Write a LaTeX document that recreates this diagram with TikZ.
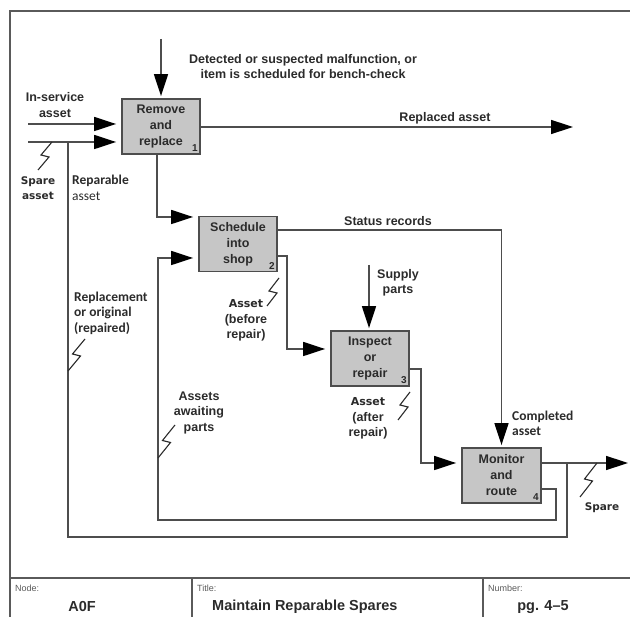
\documentclass[tikz,border=0pt]{standalone}
\usepackage{fontspec}
\setmainfont{Liberation Sans}
\newfontfamily\calfont{Carlito}
\newfontfamily\dejafont{DejaVu Sans}
\usetikzlibrary{arrows.meta,calc}

\definecolor{ink}{HTML}{2B2B2B}
\definecolor{wire}{HTML}{4D4D4D}
\definecolor{boxfill}{HTML}{C6C6C6}
\definecolor{framec}{HTML}{5A5A5A}

\tikzset{
  frameline/.style={draw=framec, line width=1.6pt},
  wire/.style={draw=wire, line width=1.5pt},
  flow/.style={wire, -{Triangle[length=22pt,width=14pt,color=black]}},
  intobox/.style={flow, shorten >=5pt},
  downbox/.style={flow, shorten >=2pt},
  zigline/.style={draw=ink, line width=1.1pt},
  stepbox/.style={draw=wire, line width=1.8pt, fill=boxfill,
    minimum width=78pt, minimum height=55pt, inner sep=0pt, align=center,
    font=\bfseries\fontsize{12.5}{16}\selectfont, text=ink},
  boxnum/.style={font=\bfseries\fontsize{10}{10}\selectfont, text=ink,
    anchor=south east, inner sep=3pt},
  lbl/.style={font=\bfseries\fontsize{12.5}{15.5}\selectfont, text=ink,
    align=center, inner sep=0pt},
  callbl/.style={font=\calfont\bfseries\fontsize{13.5}{15.5}\selectfont, text=ink,
    align=left, inner sep=0pt, anchor=west},
  dejalbl/.style={font=\dejafont\bfseries\fontsize{10.5}{15}\selectfont, text=ink,
    align=center, inner sep=0pt},
  caption/.style={font=\fontsize{9}{9}\selectfont, text=framec, anchor=west, inner sep=0pt},
  field/.style={font=\bfseries\fontsize{14.5}{14.5}\selectfont, text=ink, inner sep=0pt},
}

% lightning-bolt squiggle tying a label to its arrow (lower end first)
\newcommand{\idefsquiggle}[2]{%
  \draw[zigline] (#1) -- ($(#1)!0.5!(#2)+(4,1)$)
    -- ($(#1)!0.5!(#2)+(-4,-1)$) -- (#2);}

\begin{document}
\begin{tikzpicture}[x=1pt,y=-1pt]
\useasboundingbox (0,0) rectangle (630,617);

% drawing frame and title block
\coordinate (fbl) at (10,617);
\coordinate (ftl) at (10,11);
\coordinate (ftr) at (630,11);
\coordinate (tbl) at (10,578);
\coordinate (tbr) at (630,578);
\coordinate (d1t) at (192,578);
\coordinate (d1b) at (192,617);
\coordinate (d2t) at (483,578);
\coordinate (d2b) at (483,617);
\draw[frameline] (fbl) -- (ftl) -- (ftr);
\draw[frameline] (tbl) -- (tbr);
\draw[frameline] (d1t) -- (d1b);
\draw[frameline] (d2t) -- (d2b);

\node[caption] (capnode) at (15,588) {Node:};
\node[field] (nodeval) at (82,607) {A0F};
\node[caption] (captitle) at (197,588) {Title:};
\node[field, anchor=west] (titleval) at (212,607) {Maintain Reparable Spares};
\node[caption] (capnum) at (488,588) {Number:};
\node[field] (numval) at (543,607) {pg. 4–5};

% activity boxes
\node[stepbox] (b1) at (161,126.5) {Remove\\and\\replace};
\node[stepbox] (b2) at (238,244) {Schedule\\into\\shop};
\node[stepbox] (b3) at (370,358.5) {Inspect\\or\\repair};
\node[stepbox, minimum width=79pt] (b4) at (501.5,475.5) {Monitor\\and\\route};
\node[boxnum] (n1) at (b1.south east) {1};
\node[boxnum] (n2) at (b2.south east) {2};
\node[boxnum] (n3) at (b3.south east) {3};
\node[boxnum] (n4) at (b4.south east) {4};

% box 1: control, inputs, outputs
\coordinate (c1) at (161,39);
\draw[downbox] (c1) -- (b1.north);
\coordinate (i1) at (28,124);
\coordinate (i2) at (28,142);
\draw[intobox] (i1) -- (i1 -| b1.west);
\draw[intobox] (i2) -- (i2 -| b1.west);
\coordinate (o1) at (573,127);
\draw[flow] (o1 -| b1.east) -- (o1);
\coordinate (c12) at (157,217);
\draw[intobox] (c12 |- b1.south) -- (c12) -- (c12 -| b2.west);

% box 2 outputs
\coordinate (st) at (400,230);
\draw[downbox] (st -| b2.east) -| (b4.north);
\coordinate (br) at (287,256);
\coordinate (bi) at (300,349);
\draw[intobox] (br -| b2.east) -- (br) |- (bi -| b3.west);

% box 3: supply parts and output
\coordinate (sp) at (369,265);
\draw[downbox] (sp) -- (sp |- b3.north);
\coordinate (ar) at (421,369);
\coordinate (ai) at (440,463);
\draw[intobox] (ar -| b3.east) -- (ar) |- (ai -| b4.west);

% box 4: spare output, looped back to the spare-asset input
\coordinate (o4) at (628,463);
\draw[flow] (o4 -| b4.east) -- (o4);
\coordinate (j4) at (567,463);
\coordinate (r1) at (68,537);
\coordinate (j1) at (68,142);
\draw[wire] (j4) |- (r1) -- (j1);

% box 4: assets awaiting parts, back to box 2
\coordinate (a4) at (556,489);
\coordinate (a5) at (158,520);
\coordinate (a6) at (180,258);
\draw[intobox] (a4 -| b4.east) -- (a4) |- (a5) |- (a6 -| b2.west);

% arrow labels
\node[lbl] (tdet) at (303,66.5) {Detected or suspected malfunction, or\\item is scheduled for bench-check};
\node[lbl] (tins) at (55,105) {In-service\\asset};
\node[dejalbl] (tspa) at (38,188) {Spare\\asset};
\node[callbl] (trep) at (72,188) {Reparable\\{\mdseries asset}};
\node[lbl] (trpl) at (445,118) {Replaced asset};
\node[lbl] (tsta) at (388,221) {Status records};
\node[callbl] (trpo) at (74,313) {Replacement\\or original\\(repaired)};
\node[lbl] (tbef) at (246,320.5) {{\dejafont\fontsize{11}{15.5}\selectfont Asset}\\(before\\repair)};
\node[lbl] (tsup) at (398,283) {Supply\\parts};
\node[lbl] (tawa) at (199,412.5) {Assets\\awaiting\\parts};
\node[lbl] (taft) at (368,418.5) {{\dejafont\fontsize{11}{15.5}\selectfont Asset}\\(after\\repair)};
\node[callbl] (tcom) at (512,423.5) {Completed\\asset};
\node[dejalbl] (tspr) at (602,508) {Spare};

% squiggles
\coordinate (s1a) at (38,170);  \coordinate (s1b) at (52,142);
\coordinate (s2a) at (68,371);  \coordinate (s2b) at (85,339);
\coordinate (s3a) at (267,306); \coordinate (s3b) at (279,278);
\coordinate (s4a) at (158,458); \coordinate (s4b) at (175,425);
\coordinate (s5a) at (398,420); \coordinate (s5b) at (410,392);
\coordinate (s6a) at (580,497); \coordinate (s6b) at (597,463);
\idefsquiggle{s1a}{s1b}
\idefsquiggle{s2a}{s2b}
\idefsquiggle{s3a}{s3b}
\idefsquiggle{s4a}{s4b}
\idefsquiggle{s5a}{s5b}
\idefsquiggle{s6a}{s6b}
\end{tikzpicture}
\end{document}
